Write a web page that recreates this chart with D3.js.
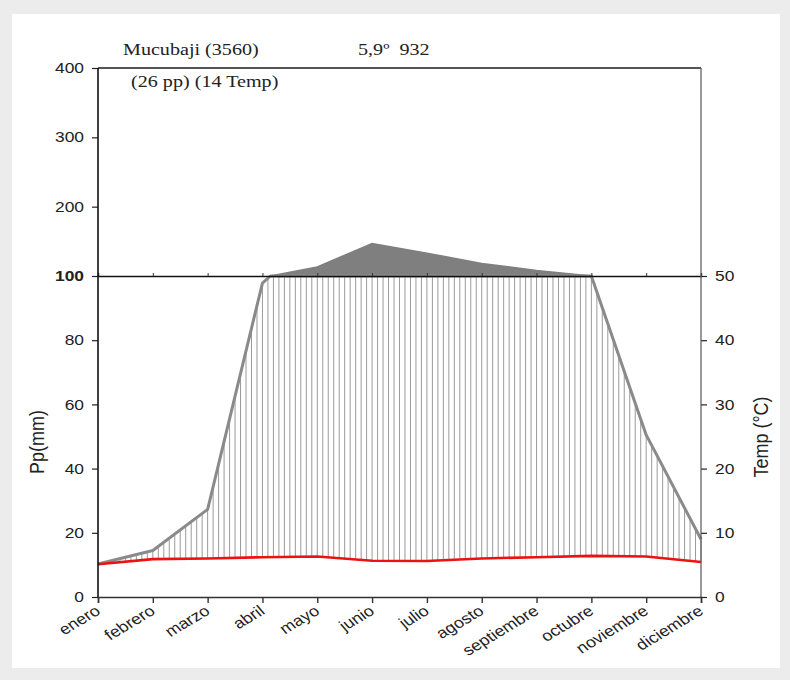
<!DOCTYPE html>
<meta charset="utf-8">
<html>
<head>
<style>
  body { margin: 0; background: #ececec; }
  svg { display: block; }
  .sans { font-family: "Liberation Sans", Arial, sans-serif; fill: #222; }
  .serif { font-family: "Liberation Serif", "Times New Roman", serif; fill: #222; }
</style>
</head>
<body>
<script src="https://cdnjs.cloudflare.com/ajax/libs/d3/7.8.5/d3.min.js"></script>
<script type="text/javascript">
  // month names along the x axis
  var months = ["enero", "febrero", "marzo", "abril", "mayo", "junio", "julio",
                "agosto", "septiembre", "octubre", "noviembre", "diciembre"];
  // monthly precipitation (mm)
  var precip = [10.3, 14.5, 27.3, 97.8, 113, 147, 133, 118, 108, 100, 50.5, 18];
  // monthly mean temperature (°C)
  var temp = [5.1, 5.9, 6.0, 6.2, 6.3, 5.65, 5.6, 6.0, 6.2, 6.4, 6.3, 5.45];

  var ppTicksLow = [0, 20, 40, 60, 80, 100];
  var ppTicksHigh = [200, 300, 400];
  var tempTicks = [0, 10, 20, 30, 40, 50];

  var station = "Mucubaji (3560)";
  var summary = "5,9º  932";
  var years = "(26 pp) (14 Temp)";

  var W = 790, H = 680;
  var SX = 1.2; // the source text is a bit wide

  var svg = d3.select("body").append("svg").attr("width", W).attr("height", H);

  // white panel on the grey page
  svg.append("rect").attr("x", 12).attr("y", 14).attr("width", 768).attr("height", 654)
     .attr("fill", "#fff");

  var pLeft = 98, pRight = 701, pTop = 68, pMid = 276, pBottom = 597;

  var x = d3.scalePoint().domain(months).range([pLeft, pRight]);
  var yLo = d3.scaleLinear().domain([0, 100]).range([pBottom, pMid]);
  var yHi = d3.scaleLinear().domain([100, 400]).range([pMid, pTop]);
  var yT = d3.scaleLinear().domain([0, 50]).range([pBottom, pMid]);

  // precipitation points with an extra point wherever the curve crosses 100 mm
  var pts = [];
  precip.forEach(function (v, i) {
    var xi = x(months[i]);
    if (i > 0) {
      var v0 = precip[i - 1], x0 = x(months[i - 1]);
      if ((v0 - 100) * (v - 100) < 0) {
        var t = (100 - v0) / (v - v0);
        pts.push({ x: x0 + t * (xi - x0), v: 100 });
      }
    }
    pts.push({ x: xi, v: v });
  });

  // value at any x (linear between months)
  function interp(arr, px) {
    var f = (px - pLeft) / x.step();
    var i = Math.min(Math.floor(f), arr.length - 2);
    var t = f - i;
    return arr[i] + t * (arr[i + 1] - arr[i]);
  }

  // vertical hatching between temperature and precipitation (humid period)
  var hatch = d3.range(0, 11 * 10 + 1).map(function (k) { return pLeft + k * x.step() / 10; });
  svg.append("g").selectAll("line").data(hatch).enter().append("line")
     .attr("x1", function (d) { return d; })
     .attr("x2", function (d) { return d; })
     .attr("y1", function (d) { return yT(interp(temp, d)); })
     .attr("y2", function (d) { return yLo(Math.min(interp(precip, d), 100)); })
     .attr("stroke", "#9a9a9a").attr("stroke-width", 1);

  // part above 100 mm, dark fill
  var hiPts = pts.filter(function (p, i) {
    return p.v >= 100 || (pts[i - 1] && pts[i - 1].v > 100) || (pts[i + 1] && pts[i + 1].v > 100);
  });
  svg.append("path").datum(hiPts)
     .attr("d", d3.area().x(function (d) { return d.x; })
                  .y0(pMid).y1(function (d) { return yHi(Math.max(d.v, 100)); }))
     .attr("fill", "#7f7f7f").attr("stroke", "#7f7f7f").attr("stroke-width", 1.5);

  // precipitation line (lower scale, capped at 100)
  svg.append("path").datum(pts)
     .attr("d", d3.line().x(function (d) { return d.x; })
                  .y(function (d) { return yLo(Math.min(d.v, 100)); }))
     .attr("fill", "none").attr("stroke", "#8a8a8a").attr("stroke-width", 3)
     .attr("stroke-linejoin", "round");

  // temperature line
  svg.append("path").datum(temp)
     .attr("d", d3.line().x(function (d, i) { return x(months[i]); }).y(function (d) { return yT(d); }))
     .attr("fill", "none").attr("stroke", "#ee1111").attr("stroke-width", 2.6);

  // 100 mm line with small ticks upward
  var midAxis = svg.append("g").attr("transform", "translate(0," + pMid + ")")
     .call(d3.axisTop(x).tickSize(3).tickFormat(""));
  midAxis.select(".domain").attr("stroke", "#111").attr("stroke-width", 1.4);
  midAxis.selectAll(".tick line").attr("stroke", "#333");

  // frame: top edge
  svg.append("line").attr("x1", pLeft).attr("x2", pRight).attr("y1", pTop).attr("y2", pTop)
     .attr("stroke", "#555").attr("stroke-width", 2);

  // left axis (two scales)
  function styleY(g, xoff) {
    g.select(".domain").remove();
    g.selectAll(".tick line").attr("stroke", "#222").attr("stroke-width", 1.2);
    g.selectAll(".tick text").attr("class", "sans").style("font-size", "14.5px")
     .attr("x", xoff / SX).attr("transform", "scale(" + SX + ",1)");
  }
  var gLo = svg.append("g").attr("transform", "translate(" + pLeft + ",0)")
     .call(d3.axisLeft(yLo).tickValues(ppTicksLow).tickSize(6));
  styleY(gLo, -14);
  var gHi = svg.append("g").attr("transform", "translate(" + pLeft + ",0)")
     .call(d3.axisLeft(yHi).tickValues(ppTicksHigh).tickSize(6));
  styleY(gHi, -14);
  gLo.selectAll(".tick text").filter(function (d) { return d === 100; })
     .style("font-weight", "bold");
  svg.append("line").attr("x1", pLeft).attr("x2", pLeft).attr("y1", pTop).attr("y2", pBottom)
     .attr("stroke", "#111").attr("stroke-width", 1.6);

  // right axis (temperature)
  var gT = svg.append("g").attr("transform", "translate(" + pRight + ",0)")
     .call(d3.axisRight(yT).tickValues(tempTicks).tickSize(6));
  styleY(gT, 14);
  svg.append("line").attr("x1", pRight).attr("x2", pRight).attr("y1", pTop).attr("y2", pBottom)
     .attr("stroke", "#555").attr("stroke-width", 1.2);

  // bottom axis with slanted month names
  var gX = svg.append("g").attr("transform", "translate(0," + pBottom + ")")
     .call(d3.axisBottom(x).tickSize(6));
  gX.select(".domain").attr("stroke", "#333").attr("stroke-width", 1.5);
  gX.selectAll(".tick line").attr("stroke", "#333").attr("stroke-width", 1.4);
  gX.selectAll(".tick text").attr("class", "sans").style("font-size", "15px")
     .attr("y", null).attr("dy", null)
     .attr("text-anchor", "end")
     .attr("transform", "translate(3,16) scale(" + SX + ",1) rotate(-35.8)");

  // axis titles
  svg.append("text").attr("class", "sans").style("font-size", "18px")
     .attr("text-anchor", "middle")
     .attr("transform", "translate(44,442) scale(1.1,1) rotate(-90)")
     .text("Pp(mm)");
  svg.append("text").attr("class", "sans").style("font-size", "18px")
     .attr("text-anchor", "middle")
     .attr("transform", "translate(768,437) scale(1.1,1) rotate(-90)")
     .text("Temp (°C)");

  // station header
  function header(str, px, py) {
    svg.append("text").attr("class", "serif").style("font-size", "16.5px")
       .style("white-space", "pre")
       .attr("transform", "translate(" + px + "," + py + ") scale(1.22,1)")
       .text(str);
  }
  header(station, 123, 55);
  header(summary, 358, 55);
  header(years, 131, 87);
</script>
</body>
</html>
